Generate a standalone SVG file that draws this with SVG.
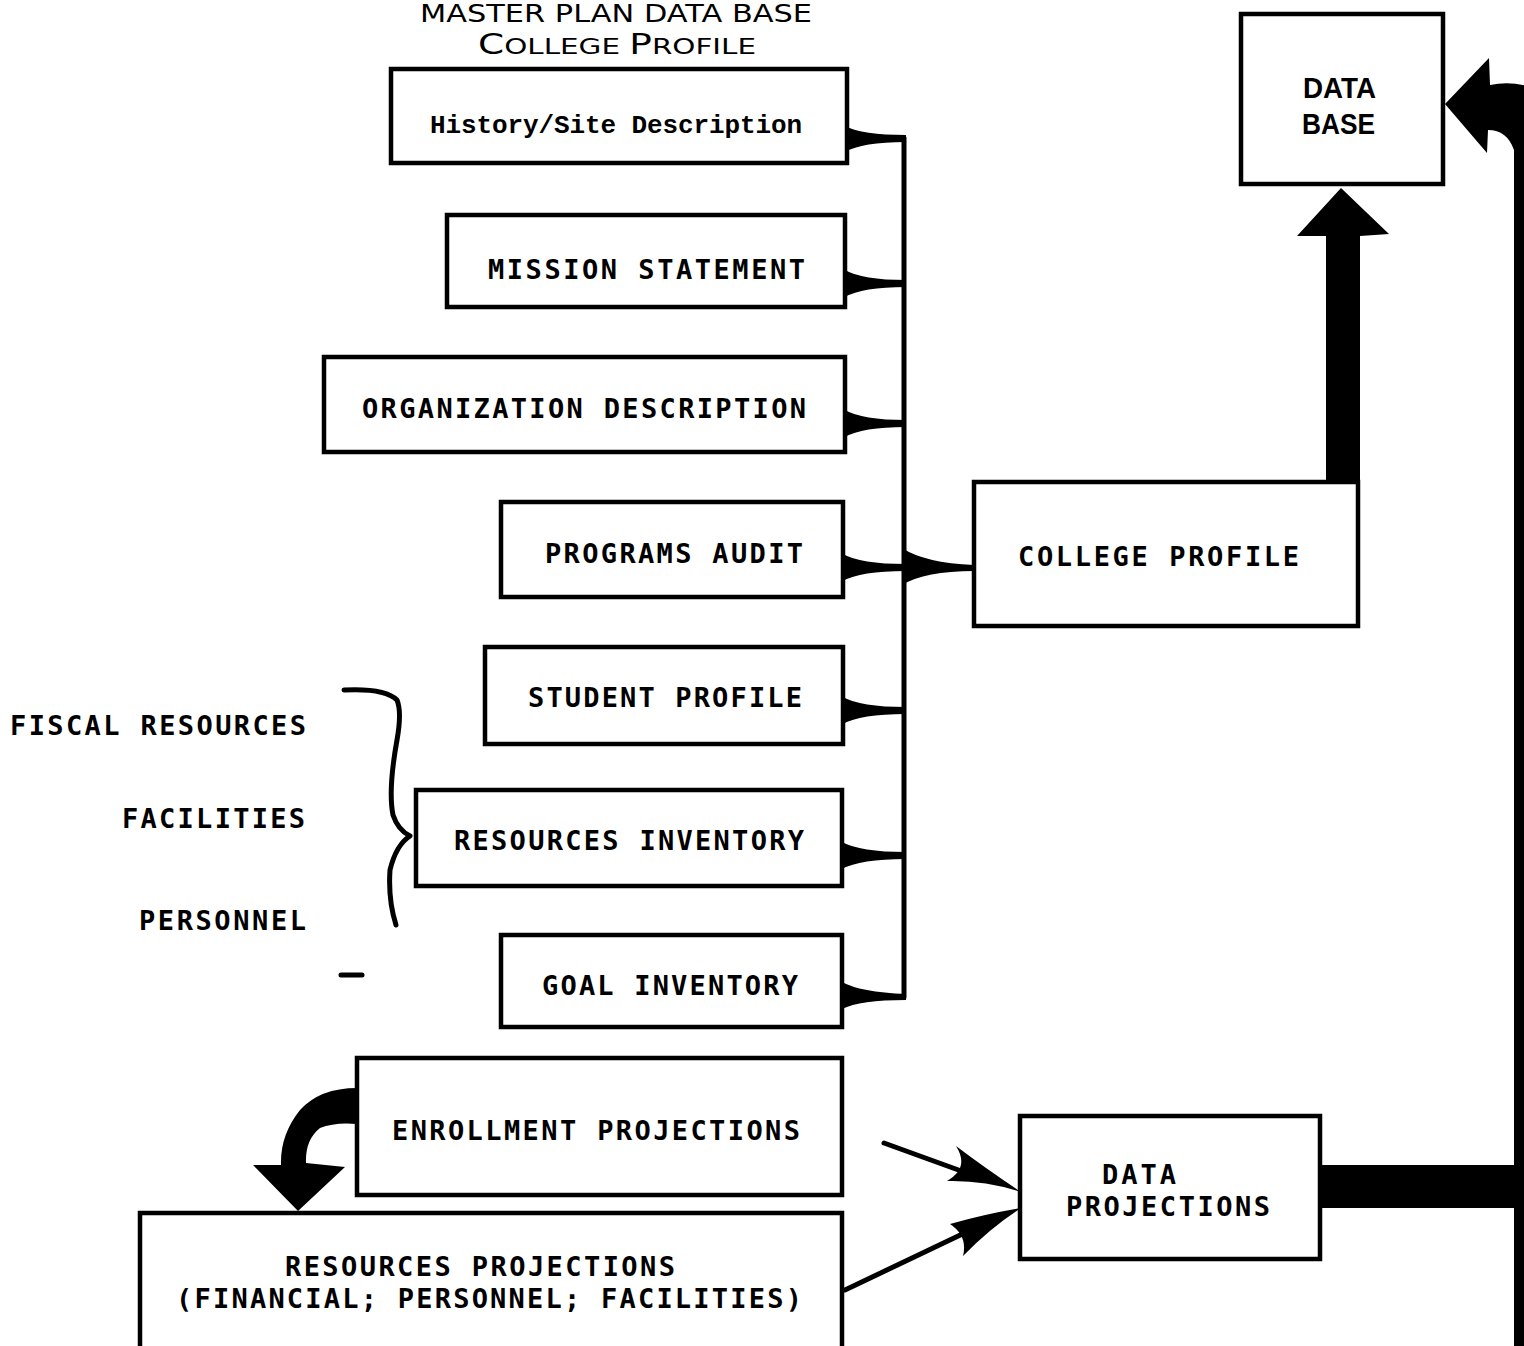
<svg xmlns="http://www.w3.org/2000/svg" width="1524" height="1346" viewBox="0 0 1524 1346">
<style>
.box{fill:#fff;stroke:#000;stroke-width:4.5}
.lbl{font-family:"DejaVu Sans Mono","Liberation Mono",monospace;font-weight:bold;font-size:27px;fill:#000}
.ser{font-family:"Liberation Mono","DejaVu Sans Mono",monospace;font-weight:bold;font-size:26px;fill:#000}
.side{font-family:"DejaVu Sans Mono","Liberation Mono",monospace;font-weight:bold;font-size:27px;fill:#000;text-anchor:end}
.ttl{font-family:"DejaVu Sans","Liberation Sans",sans-serif;fill:#000}
.db{font-family:"Liberation Sans","DejaVu Sans",sans-serif;font-weight:bold;fill:#000}
.fill{fill:#000;stroke:none}
.line{fill:none;stroke:#000;stroke-width:5;stroke-linecap:round;stroke-linejoin:round}
</style>
<rect x="0" y="0" width="1524" height="1346" fill="#fff"/>

<g id="title">
<text class="ttl" x="616" y="22" text-anchor="middle" font-size="24" textLength="392" lengthAdjust="spacingAndGlyphs">MASTER PLAN DATA BASE</text>
<text class="ttl" x="478" y="54" font-size="28" textLength="278" lengthAdjust="spacingAndGlyphs">C<tspan font-size="22">OLLEGE </tspan>P<tspan font-size="22">ROFILE</tspan></text>
</g>

<g id="connectors">
<path class="line" d="M904 138 L904 997"/>
<path class="fill" d="M845 126 Q862 135 906 135 L906 142 Q862 142 845 152 Z"/>
<path class="fill" d="M845 270 Q862 280 906 280 L906 287 Q862 287 845 297 Z"/>
<path class="fill" d="M845 410 Q862 420 906 420 L906 427 Q862 427 845 437 Z"/>
<path class="fill" d="M843 554 Q860 564 906 564 L906 571 Q860 571 843 581 Z"/>
<path class="fill" d="M843 697 Q860 707 906 707 L906 714 Q860 714 843 724 Z"/>
<path class="fill" d="M842 842 Q860 852 906 852 L906 859 Q860 859 842 869 Z"/>
<path class="fill" d="M842 982 Q860 992 906 994 L906 1000 Q860 1000 842 1009 Z"/>
<path class="fill" d="M902 548 Q925 563 974 565 L974 571 Q925 571 902 585 Z"/>
<path class="fill" d="M1326 485 L1326 236 L1297 236 L1341 188 L1389 234 L1360 236 L1360 485 Z"/>
<path class="fill" d="M1445 104 L1489 58 L1490 85 Q1515 80 1540 90 L1540 1346 L1514 1346 L1514 150 Q1507 130 1488 130 L1487 153 Z"/>
<path class="fill" d="M1318 1165 L1524 1165 L1524 1208 L1318 1208 Z"/>
<path class="fill" d="M357 1088 Q320 1088 300 1110 Q280 1135 281 1165 L253 1165 L298 1211 L345 1167 L306 1163 Q305 1140 320 1128 Q335 1122 357 1124 Z"/>
<path class="line" d="M884 1143 L975 1176" stroke-width="6"/>
<path class="fill" d="M1021 1192 Q985 1168 956 1146 Q970 1168 947 1181 Q985 1180 1021 1192 Z"/>
<path class="line" d="M845 1290 L975 1228" stroke-width="6"/>
<path class="fill" d="M1021 1208 Q985 1214 950 1224 Q968 1236 963 1256 Q990 1228 1021 1208 Z"/>
</g>

<g id="history"><rect class="box" x="391" y="69" width="456" height="94"/><text class="ser" x="430" y="133" textLength="372">History/Site Description</text></g>
<g id="mission"><rect class="box" x="447" y="215" width="398" height="92"/><text class="lbl" x="488" y="279" textLength="317">MISSION STATEMENT</text></g>
<g id="organization"><rect class="box" x="324" y="357" width="521" height="95"/><text class="lbl" x="362" y="418" textLength="444">ORGANIZATION DESCRIPTION</text></g>
<g id="programs"><rect class="box" x="501" y="502" width="342" height="95"/><text class="lbl" x="545" y="563" textLength="258">PROGRAMS AUDIT</text></g>
<g id="student"><rect class="box" x="485" y="647" width="358" height="97"/><text class="lbl" x="528" y="707" textLength="274">STUDENT PROFILE</text></g>
<g id="resources-inventory"><rect class="box" x="416" y="790" width="426" height="96"/><text class="lbl" x="454" y="850" textLength="350">RESOURCES INVENTORY</text></g>
<g id="goal"><rect class="box" x="501" y="935" width="341" height="92"/><text class="lbl" x="542" y="995" textLength="256">GOAL INVENTORY</text></g>
<g id="college-profile"><rect class="box" x="974" y="482" width="384" height="144"/><text class="lbl" x="1018" y="566" textLength="281">COLLEGE PROFILE</text></g>
<g id="database"><rect class="box" x="1241" y="14" width="202" height="170"/>
<text class="db" x="1303" y="98" font-size="30" textLength="73" lengthAdjust="spacingAndGlyphs">DATA</text>
<text class="db" x="1302" y="134" font-size="30" textLength="73" lengthAdjust="spacingAndGlyphs">BASE</text></g>
<g id="enrollment"><rect class="box" x="357" y="1058" width="485" height="137"/><text class="lbl" x="392" y="1140" textLength="408">ENROLLMENT PROJECTIONS</text></g>
<g id="resources-projections"><rect class="box" x="140" y="1213" width="702" height="150"/>
<text class="lbl" x="285" y="1276" textLength="390">RESOURCES PROJECTIONS</text>
<text class="lbl" x="176" y="1308" textLength="626">(FINANCIAL; PERSONNEL; FACILITIES)</text></g>
<g id="data-projections"><rect class="box" x="1020" y="1116" width="300" height="143"/>
<text class="lbl" x="1102" y="1184" textLength="74">DATA</text>
<text class="lbl" x="1066" y="1216" textLength="204">PROJECTIONS</text></g>

<g id="resource-items">
<text class="side" x="306" y="735" textLength="296">FISCAL RESOURCES</text>
<text class="side" x="305" y="828" textLength="183">FACILITIES</text>
<text class="side" x="306" y="930" textLength="167">PERSONNEL</text>
<path class="line" stroke-width="4" d="M344 690 Q385 688 397 700 Q402 712 397 740 Q388 790 393 815 Q398 830 410 836 Q396 845 390 870 Q388 900 396 925"/>
<path class="line" stroke-width="4" d="M341 975 L362 975"/>
</g>
</svg>
